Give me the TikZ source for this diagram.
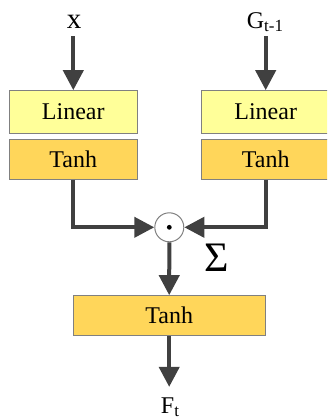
\documentclass[tikz,border=0pt]{standalone}
\usepackage{fontspec}
\setmainfont{Liberation Serif}
\usetikzlibrary{arrows.meta}
\definecolor{linfill}{HTML}{FFFF99}
\definecolor{tanhfill}{HTML}{FFD65A}
\definecolor{boxline}{HTML}{808080}
\definecolor{arrcol}{HTML}{404040}
\tikzset{
  box/.style={draw=boxline, line width=0.5pt, rectangle, inner sep=0pt, font=\fontsize{12}{14}\selectfont},
  linbox/.style={box, fill=linfill, minimum width=64pt, minimum height=21.3pt},
  tanhbox/.style={box, fill=tanhfill, minimum width=64pt, minimum height=20.15pt},
  arr/.style={draw=arrcol, line width=2pt, -{Triangle[length=10pt,width=10pt]}},
  lbl/.style={inner sep=0pt, font=\fontsize{12}{14}\selectfont},
  prod/.style={circle, draw=boxline, line width=0.5pt, fill=white, minimum size=14.5pt, inner sep=0pt}
}
\begin{document}
\begin{tikzpicture}[x=0.5pt, y=-0.5pt]
\clip (0,0) rectangle (327,418);
\node[lbl, anchor=base, font=\fontsize{14.5}{16}\selectfont] (x) at (74,28) {x};
\node[lbl, anchor=base] (g) at (265,28) {G\raisebox{-0.35ex}{\fontsize{8.5}{9}\selectfont t-1}};
\node[linbox] (l1) at (73.3,112) {Linear};
\node[tanhbox] (t1) at (73.3,159.2) {Tanh};
\node[linbox] (l2) at (265.7,112) {Linear};
\node[tanhbox] (t2) at (265.7,159.2) {Tanh};
\node[prod] (c) at (169.3,227.3) {};
\fill[black] (c.center) circle (1.2pt);
\node[inner sep=0pt, font=\fontsize{21}{21}\selectfont] (s) at (217,258) {Σ};
\node[tanhbox, minimum width=95.85pt, minimum height=20pt] (t3) at (169.2,315.7) {Tanh};
\node[lbl, anchor=base] (f) at (170,413) {F\raisebox{-0.35ex}{\fontsize{8.5}{9}\selectfont t}};
\draw[arr] ([yshift=-4pt]x.south -| l1.north) -- (l1.north);
\draw[arr] ([yshift=-2pt]g.south -| l2.north) -- (l2.north);
\draw[arr] (t1.south) |- (c.west);
\draw[arr] (t2.south) |- (c.east);
\draw[arr] (c.south) -- (t3.north);
\draw[arr] (t3.south) -- ([yshift=5pt]f.north -| t3.south);
\end{tikzpicture}
\end{document}
